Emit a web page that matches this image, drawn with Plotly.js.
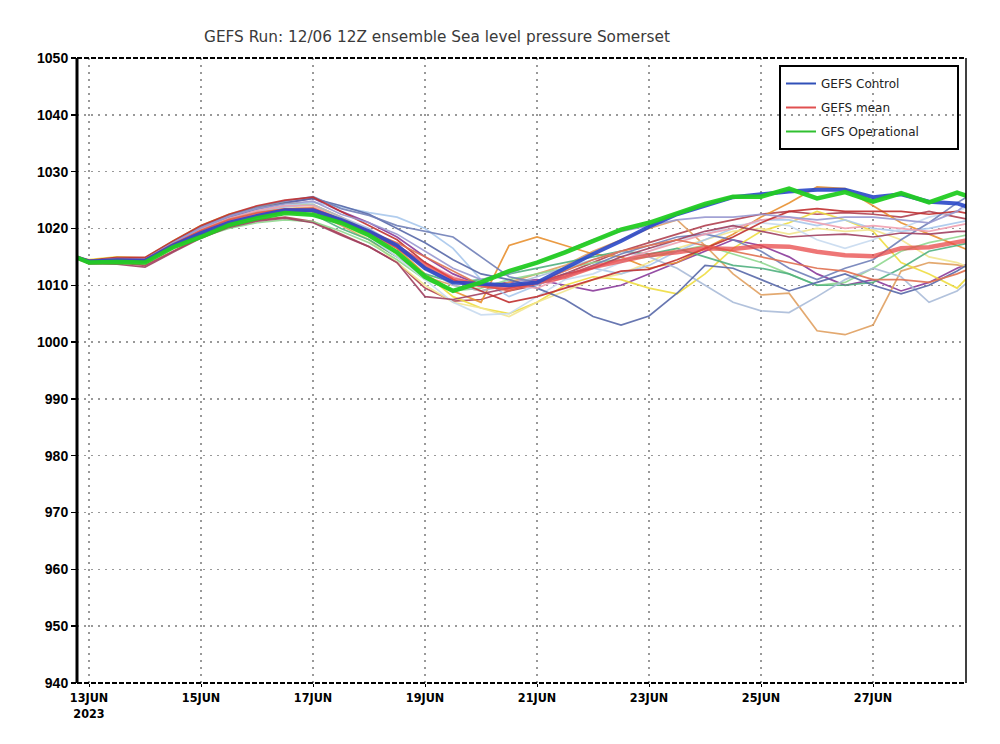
<!DOCTYPE html>
<html>
<head>
<meta charset="utf-8">
<script src="https://cdn.plot.ly/plotly-3.0.1.min.js"></script>
<style>html,body{margin:0;padding:0;background:#fff;}#chart{width:1000px;height:744px;}</style>
</head>
<body>
<div id="chart"></div>
<script>
// ---- time axis (12-hourly) ----
const times = ['2023-06-12 18:00','2023-06-13 00:00','2023-06-13 12:00','2023-06-14 00:00','2023-06-14 12:00',
'2023-06-15 00:00','2023-06-15 12:00','2023-06-16 00:00','2023-06-16 12:00','2023-06-17 00:00',
'2023-06-17 12:00','2023-06-18 00:00','2023-06-18 12:00','2023-06-19 00:00','2023-06-19 12:00',
'2023-06-20 00:00','2023-06-20 12:00','2023-06-21 00:00','2023-06-21 12:00','2023-06-22 00:00',
'2023-06-22 12:00','2023-06-23 00:00','2023-06-23 12:00','2023-06-24 00:00','2023-06-24 12:00',
'2023-06-25 00:00','2023-06-25 12:00','2023-06-26 00:00','2023-06-26 12:00','2023-06-27 00:00',
'2023-06-27 12:00','2023-06-28 00:00','2023-06-28 12:00','2023-06-28 18:00'];

const tickDates = ['2023-06-13','2023-06-15','2023-06-17','2023-06-19','2023-06-21','2023-06-23','2023-06-25','2023-06-27'];
const tickLabels = ['13JUN<br>2023','15JUN','17JUN','19JUN','21JUN','23JUN','25JUN','27JUN'];

// ---- main series (hPa) ----
const gfsOper = [1015,1014,1014.1,1014,1016.7,1018.5,1020.6,1021.8,1022.7,1022.4,1021,1018.8,1015.8,1011.5,1009,1010.5,1012.5,1014,1015.8,1017.8,1019.8,1021,1022.7,1024.3,1025.6,1025.6,1027,1025.3,1026.4,1024.7,1026.2,1024.6,1026.3,1025.5];
const gefsControl = [1015,1014.2,1014.4,1014.3,1017,1019.2,1021,1022.2,1023.2,1023.2,1021.5,1019.5,1017,1013,1010.5,1010.2,1010,1010.5,1013,1015.5,1017.8,1020.3,1022.5,1024,1025.5,1026,1026.5,1026.8,1026.8,1025.5,1026,1024.7,1024.4,1023.6];
const gefsMean = [1015,1014.1,1014.4,1014.3,1017,1019.3,1021.2,1022.4,1023.2,1023.3,1021.3,1019.3,1016.8,1013.5,1011,1010,1009.5,1010.4,1011.5,1013.2,1014.3,1015.3,1015.8,1016.5,1016.4,1016.9,1016.8,1015.9,1015.3,1015.1,1016.5,1016.7,1017.6,1018];

// ---- ensemble members ----
const m01 = [1015,1013.8,1014,1013.5,1016,1018.5,1020.5,1021.5,1022,1021.2,1019,1016.8,1014,1009.5,1007.2,1007.5,1009,1010,1012,1014,1016,1017.5,1019,1020.5,1021.5,1022.5,1023,1022.5,1022.8,1022.5,1022,1023,1022,1021.5];
const m02 = [1015,1014.2,1014.6,1014.8,1017.5,1020,1022,1023.5,1024.5,1025.3,1023,1021,1018.5,1015,1012,1010,1010.5,1011,1010,1009,1010,1012,1014,1016,1018,1017,1015,1012,1010,1011,1009,1010.5,1013,1014];
const m03 = [1015,1014,1014.5,1014.4,1017.2,1019.8,1021.8,1023,1023.5,1023,1020.5,1018,1015,1011.5,1010,1009,1010.5,1012,1013.5,1016,1018,1020,1021.5,1017,1012,1008.3,1008.6,1002,1001.3,1003,1012.5,1014,1013.6,1013];
const m04 = [1015,1014.3,1014.8,1014.6,1017.5,1020.2,1022,1023.2,1024,1024.2,1022,1019.5,1016.5,1012,1009,1007,1017,1018.5,1017,1015.5,1015,1013,1014,1016.5,1019,1022,1024.5,1027.3,1027,1024,1021,1019,1017,1016];
const m05 = [1015,1014.5,1015,1014.8,1017.8,1020.5,1022.5,1023.8,1024.5,1024.2,1021.5,1019,1015.5,1012,1008,1006,1005,1007,1010,1011.5,1011,1009.5,1008.5,1012,1016.5,1019.5,1021,1023,1021.5,1019.5,1014,1012,1009.5,1012];
const m06 = [1015,1014,1014.4,1014.3,1017,1019.5,1021.5,1022.8,1023.5,1023.8,1021,1018,1014,1010,1007,1006,1004.5,1007,1009,1011,1012,1014,1016.5,1018,1019.5,1020,1019,1020,1019.5,1019.8,1018,1015,1014,1013];
const m07 = [1015,1013.8,1014,1013.9,1016.5,1018.5,1020,1021,1021.5,1021.2,1019.5,1017.5,1014.5,1011,1009,1009.5,1011,1012,1013,1014,1014.5,1015,1016,1017,1015.5,1014,1012,1010,1010.5,1013,1016,1017.5,1018.5,1019];
const m08 = [1015,1014,1014.3,1014.1,1016.8,1019,1020.8,1022,1022.8,1022.5,1020,1018,1015,1012,1010.5,1011,1012,1013,1014,1015,1016,1015.5,1016.5,1015,1013.5,1013,1012,1010,1010,1010.5,1013,1016,1017,1017.5];
const m09 = [1015,1014.3,1014.7,1014.5,1017.3,1020,1022,1023.2,1024,1024.6,1023.8,1022.8,1022,1020,1016.5,1011,1008,1010,1012,1013,1012,1013.5,1016,1018,1020,1021.5,1021.5,1020.5,1021.5,1020,1019.5,1020,1021,1021.5];
const m10 = [1015,1014.1,1014.5,1014.4,1017.1,1019.6,1021.4,1022.6,1023.4,1023.5,1021,1018.5,1015,1011,1007,1004.8,1005,1008,1011,1012,1014,1016,1018,1019,1020.5,1021,1020.5,1018,1016.5,1018,1020,1022,1023,1024];
const m11 = [1015,1014.2,1014.6,1014.5,1017.3,1019.8,1021.7,1023,1023.8,1024.2,1022,1020,1017,1013,1010,1009,1010,1011.5,1013,1014.5,1016,1015,1013,1010,1007,1005.5,1005.2,1008,1011,1013,1011.5,1007,1009,1011];
const m12 = [1015,1014.2,1014.7,1014.6,1017.4,1020,1022,1023.5,1024.5,1025.3,1024,1022.5,1020,1017.5,1014.5,1012,1011,1009.5,1007.5,1004.5,1003,1004.6,1008.6,1013.5,1013,1011,1009,1010.5,1012,1010,1008.5,1010,1012.5,1014];
const m13 = [1015,1014.3,1014.8,1014.7,1017.6,1020.3,1022.3,1023.8,1024.8,1025.6,1023.5,1022.3,1020.5,1019.5,1018.5,1015,1011.5,1010.5,1011.5,1013.5,1015.5,1017,1018.5,1019,1018,1016,1013,1011,1013,1014.5,1018,1021,1024.5,1026];
const m14 = [1015,1014.2,1014.6,1014.5,1017.4,1019.9,1021.8,1023.1,1024,1024,1021.5,1019.5,1017,1014,1011.5,1010,1010,1009.5,1011.5,1013,1014.5,1016,1017.5,1019,1020,1021.5,1022,1021,1020,1020.5,1020,1019.5,1020.5,1021];
const m15 = [1015,1014.4,1014.9,1014.9,1017.8,1020.5,1022.5,1024,1025,1025.5,1023,1020.5,1018,1014,1011,1009,1007,1008,1009.5,1011,1012.5,1012.8,1014.5,1016.5,1018.5,1021,1023,1023.5,1023,1023,1023,1022.5,1023,1022.5];
const m16 = [1015,1013.8,1013.7,1013.2,1015.8,1018.3,1020.2,1021.3,1021.8,1021,1018.8,1016.8,1014,1008,1007.5,1008.5,1009.5,1010.5,1012,1013,1015,1016.5,1018,1019.5,1020.5,1019.5,1018.5,1018.8,1019,1018.5,1019.2,1019,1019.5,1019.5];
const m17 = [1015,1014.1,1014.5,1014.3,1017.2,1019.7,1021.6,1022.8,1023.4,1023.6,1021.5,1019.5,1017.5,1015,1012.5,1010,1009,1010.5,1012.5,1014.5,1016,1017,1018,1017,1016,1015,1014,1013,1012.5,1011,1011,1010.5,1012,1013];
const m18 = [1015,1014.3,1014.7,1014.6,1017.5,1020.1,1022.1,1023.5,1024.3,1024.8,1022.5,1021,1019,1016,1013,1011,1012,1014,1016,1018,1019.5,1020.5,1021.5,1022,1022,1022.5,1022,1021.5,1022,1022,1021.5,1021,1023,1025];

const members = [m01,m02,m03,m04,m05,m06,m07,m08,m09,m10,m11,m12,m13,m14,m15,m16,m17,m18];
const memberColors = ['#b04050','#8a3a9a','#e0a060','#e89030','#eedd40','#f2e690','#90d890','#50b080','#a8c8ec',
                      '#c8daf0','#aabbd8','#5868a8','#7080b8','#f0a0b0','#c03030','#a04060','#e07050','#9898d0'];

const legendNames = ['GEFS Control','GEFS mean','GFS Operational'];
const legendColors = ['#3050b8','#e05050','#30c030'];

const traces = [];
members.forEach((m,i)=>{
  traces.push({x:times,y:m,type:'scatter',mode:'lines',showlegend:false,hoverinfo:'skip',
    line:{color:memberColors[i],width:1.7},opacity:0.9});
});
traces.push({x:times,y:gefsMean,type:'scatter',mode:'lines',showlegend:false,line:{color:'#e84848',width:4.5},opacity:0.75});
traces.push({x:times,y:gefsControl,type:'scatter',mode:'lines',showlegend:false,line:{color:'#2a48c8',width:4},opacity:0.9});
traces.push({x:times,y:gfsOper,type:'scatter',mode:'lines',showlegend:false,line:{color:'#22cc22',width:4.5},opacity:0.95});
// legend entries (thin samples as in reference)
legendNames.forEach((n,i)=>{
  traces.push({x:[null],y:[null],type:'scatter',mode:'lines',name:n,legendgroup:'g'+i,showlegend:true,
    line:{color:legendColors[i],width:2}});
});

const L=77, R=966, T=58, B=683;
const px2x = p => (p-L)/(R-L);
const px2y = p => (B-p)/(B-T);

const layout = {
  width:1000, height:744,
  margin:{l:L, r:1000-R, t:T, b:744-B, pad:0},
  paper_bgcolor:'#fff', plot_bgcolor:'#fff',
  title:{text:'GEFS Run: 12/06 12Z ensemble Sea level pressure Somerset',
    font:{family:'DejaVu Sans', size:15.3, color:'#3a3a3a'},
    x:0.437, xref:'container', xanchor:'center', y:1-37/744, yref:'container', yanchor:'middle'},
  showlegend:true,
  legend:{x:px2x(781), y:px2y(69), xanchor:'left', yanchor:'top', bgcolor:'rgba(0,0,0,0)', borderwidth:0,
    font:{family:'DejaVu Sans', size:12, color:'#222'}, traceorder:'grouped', tracegroupgap:5, itemwidth:30},
  xaxis:{type:'date', range:['2023-06-12 18:51','2023-06-28 15:50'],
    tickvals:tickDates, ticktext:tickLabels, tickangle:0,
    tickfont:{family:'DejaVu Sans Condensed', size:12.5, color:'#000', weight:'bold'},
    ticks:'outside', ticklen:3, tickcolor:'#000', tickwidth:1,
    showgrid:true, gridcolor:'#999', gridwidth:1.5, griddash:'2px,5px',
    showline:false, zeroline:false, fixedrange:true},
  yaxis:{range:[940,1050], tickmode:'linear', tick0:940, dtick:10,
    tickfont:{family:'Liberation Sans', size:14, color:'#000', weight:'bold'},
    ticks:'outside', ticklen:5, tickcolor:'#000', tickwidth:1.5,
    showgrid:true, gridcolor:'#999', gridwidth:1.5, griddash:'2px,5px',
    showline:false, zeroline:false, fixedrange:true},
  shapes:[
    {type:'line', xref:'paper', yref:'paper', x0:0, x1:1, y0:1, y1:1, line:{color:'#000', width:2, dash:'5px,2px'}},
    {type:'line', xref:'paper', yref:'paper', x0:0, x1:1, y0:0, y1:0, line:{color:'#000', width:2, dash:'5px,2px'}},
    {type:'line', xref:'paper', yref:'paper', x0:0, x1:0, y0:0, y1:1, line:{color:'#000', width:3}},
    {type:'line', xref:'paper', yref:'paper', x0:1, x1:1, y0:0, y1:1, line:{color:'#000', width:1.5}},
    {type:'rect', xref:'paper', yref:'paper', x0:px2x(780), x1:px2x(958), y0:px2y(149), y1:px2y(66), line:{color:'#000', width:2}, fillcolor:'rgba(0,0,0,0)'}
  ]
};

Plotly.newPlot('chart', traces, layout, {staticPlot:true, displayModeBar:false});
</script>
</body>
</html>
